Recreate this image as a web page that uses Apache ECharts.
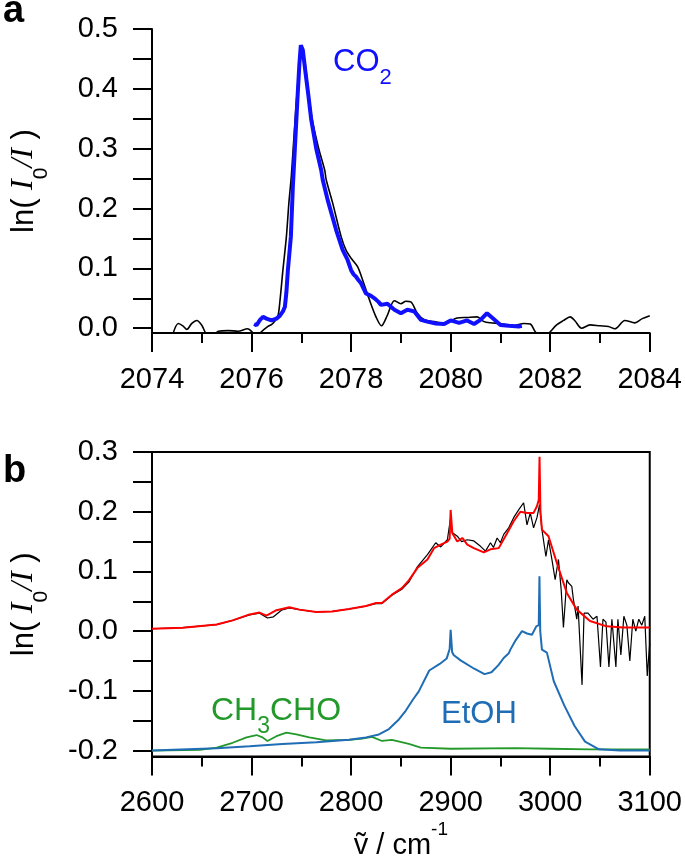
<!DOCTYPE html>
<html><head><meta charset="utf-8">
<script src="https://cdn.jsdelivr.net/npm/echarts@6/dist/echarts.min.js"></script>
<style>html,body{margin:0;padding:0;background:#fff}#c{width:685px;height:861px}</style>
</head><body><div id="c"></div>
<script>
// ---------- Panel a: CO2 band ----------
const aBlackX = [2074.40,2074.53,2074.62,2074.70,2074.80,2074.90,2075.00,2075.07,2075.15,2075.25,2075.33,2075.53,2075.73,2075.92,2076.03,2076.10,2076.17,2076.33,2076.40,2076.47,2076.53,2076.57,2076.63,2076.70,2076.75,2076.80,2076.86,2076.92,2076.97,2077.02,2077.08,2077.15,2077.22,2077.35,2077.47,2077.50,2077.63,2077.80,2077.90,2078.00,2078.13,2078.23,2078.37,2078.50,2078.61,2078.73,2078.87,2079.00,2079.10,2079.20,2079.33,2079.47,2079.67,2079.87,2080.13,2080.33,2080.53,2080.67,2080.80,2081.00,2081.27,2081.47,2081.60,2081.70,2081.80,2081.90,2082.00,2082.13,2082.27,2082.40,2082.50,2082.63,2082.80,2083.00,2083.17,2083.30,2083.50,2083.70,2083.85,2084.00];
const aBlackY = [-0.015,0.008,0.004,-0.002,0.008,0.013,0.005,-0.007,-0.015,-0.012,-0.005,-0.004,-0.005,-0.001,-0.008,-0.015,-0.008,0.003,0.006,0.012,0.020,0.045,0.097,0.153,0.209,0.255,0.330,0.400,0.445,0.465,0.440,0.390,0.348,0.300,0.264,0.248,0.209,0.153,0.130,0.117,0.103,0.081,0.047,0.019,0.004,0.022,0.046,0.041,0.045,0.044,0.025,0.014,0.011,0.008,0.017,0.018,0.019,0.011,0.009,0.008,0.004,0.008,0.007,-0.006,-0.015,-0.015,-0.006,0.0055,0.013,0.019,0.012,0.000,0.0055,0.004,0.003,-0.001,0.013,0.009,0.016,0.021];
const aBlueX = [2076.05,2076.10,2076.17,2076.23,2076.30,2076.40,2076.50,2076.57,2076.63,2076.67,2076.70,2076.73,2076.79,2076.83,2076.87,2076.92,2076.96,2076.99,2077.03,2077.08,2077.14,2077.20,2077.30,2077.40,2077.43,2077.53,2077.70,2077.83,2077.93,2078.00,2078.05,2078.10,2078.15,2078.20,2078.30,2078.40,2078.47,2078.55,2078.60,2078.73,2078.87,2079.00,2079.13,2079.27,2079.40,2079.53,2079.70,2079.87,2080.00,2080.17,2080.33,2080.47,2080.60,2080.73,2080.87,2081.00,2081.17,2081.37,2081.43];
const aBlueY = [0.007,0.005,0.014,0.019,0.016,0.013,0.016,0.021,0.028,0.036,0.060,0.097,0.153,0.237,0.300,0.380,0.440,0.473,0.465,0.430,0.390,0.348,0.300,0.264,0.248,0.214,0.164,0.131,0.114,0.097,0.090,0.086,0.080,0.075,0.058,0.054,0.050,0.044,0.039,0.041,0.031,0.025,0.031,0.028,0.014,0.011,0.008,0.007,0.013,0.009,0.013,0.007,0.014,0.025,0.015,0.0055,0.004,0.003,0.004];
const aXTicks = {min: 2074, max: 2084, step: 2};
const aYLabels = [0, 0.1, 0.2, 0.3, 0.4, 0.5];
const aYTicks = [0, 0.05, 0.1, 0.15, 0.2, 0.25, 0.3, 0.35, 0.4, 0.45, 0.5];

// ---------- Panel b: CH stretch region ----------
const bBlackX = [2600,2631,2665,2681,2698,2708,2716,2722,2730,2738,2748,2765,2781,2798,2815,2825,2831,2841,2851,2858,2866.7,2876.7,2885,2890,2896.7,2900,2901.5,2906.7,2911,2916.7,2923.3,2930,2935,2940,2943,2946.7,2950,2953.3,2958.3,2963.3,2968.3,2973.3,2976.7,2980,2983.3,2986.7,2989.3,2991.7,2995.7,2998.3,3001.7,3005,3008.3,3011,3013.3,3016.7,3018.3,3021.7,3023.3,3026.7,3028,3030,3032,3034,3038,3043,3047,3050.5,3053,3056,3059,3062,3066,3068,3071,3074,3077,3080,3083,3086,3089,3092,3095,3097.5,3100];
const bBlackY = [0.004,0.0057,0.011,0.018,0.027,0.030,0.022,0.024,0.035,0.039,0.036,0.032,0.033,0.037,0.042,0.046,0.046,0.060,0.070,0.082,0.108,0.128,0.148,0.141,0.153,0.190,0.165,0.159,0.150,0.153,0.151,0.142,0.134,0.148,0.140,0.156,0.148,0.162,0.173,0.190,0.203,0.215,0.178,0.198,0.173,0.190,0.212,0.170,0.125,0.153,0.120,0.086,0.120,0.070,0.006,0.086,0.081,0.075,0.053,0.020,0.042,0.045,-0.090,0.030,0.030,0.020,0.025,-0.060,0.020,0.015,-0.060,0.020,-0.060,0.020,-0.040,0.025,0.010,-0.050,0.020,0.000,0.020,0.010,0.025,-0.075,-0.020];
const bRedX = [2600,2631,2665,2681,2698,2708,2715,2725,2738,2748,2765,2781,2798,2815,2825,2831,2841,2851,2858,2866.7,2876.7,2883.3,2890,2896.7,2899,2900,2901.7,2906.7,2911.7,2916.7,2923.3,2933.3,2940,2948.3,2956.7,2963.3,2970,2976.7,2983.3,2986.7,2988.5,2989.3,2990.2,2991.7,2998.3,3006.7,3016.7,3026.7,3040,3056.7,3073,3100];
const bRedY = [0.004,0.0057,0.011,0.018,0.028,0.031,0.026,0.035,0.040,0.036,0.032,0.033,0.037,0.042,0.047,0.047,0.061,0.072,0.085,0.106,0.120,0.139,0.145,0.150,0.155,0.203,0.164,0.150,0.156,0.145,0.139,0.132,0.137,0.139,0.164,0.184,0.200,0.198,0.198,0.209,0.220,0.292,0.200,0.170,0.159,0.114,0.064,0.036,0.017,0.008,0.006,0.006];
const bEtohX = [2600,2665,2698,2731,2765,2798,2815,2828,2838,2848,2855,2862,2868,2878.5,2889,2896,2899,2900,2901.5,2903,2910,2923.7,2934,2941,2948,2953.3,2958.4,2960,2965.4,2971.7,2976.7,2981.7,2986,2988.5,2989.2,2990,2991.7,2996.7,3003.6,3014,3024.5,3035,3049,3070,3100];
const bEtohY = [-0.200,-0.196,-0.193,-0.189,-0.186,-0.182,-0.178,-0.173,-0.164,-0.148,-0.133,-0.115,-0.101,-0.066,-0.055,-0.046,-0.030,0.002,-0.035,-0.040,-0.049,-0.063,-0.072,-0.069,-0.057,-0.045,-0.037,-0.031,-0.015,0.000,-0.004,-0.006,0.008,0.010,0.092,0.000,-0.031,-0.036,-0.084,-0.124,-0.159,-0.185,-0.198,-0.200,-0.200];
const bAcetX = [2600,2648,2665,2681,2695,2705,2711,2716,2725,2735,2745,2758,2775,2798,2811,2821,2831,2841,2858,2870,2900,2965,2966,2967,3000,3040,3100];
const bAcetY = [-0.200,-0.199,-0.195,-0.187,-0.178,-0.174,-0.178,-0.184,-0.176,-0.170,-0.173,-0.178,-0.183,-0.182,-0.180,-0.177,-0.184,-0.182,-0.189,-0.195,-0.197,-0.196,-0.193,-0.196,-0.197,-0.198,-0.198];
const bXTicks = {min: 2600, max: 3100, step: 100};
const bYLabels = [-0.2, -0.1, 0, 0.1, 0.2, 0.3];
const bYTicks = [-0.2, -0.15, -0.1, -0.05, 0, 0.05, 0.1, 0.15, 0.2, 0.25, 0.3];

// ---------- build ----------
const zip = (xs, ys) => xs.map((x, i) => [x, ys[i]]);
const FONT = '"Liberation Sans", Arial, Helvetica, sans-serif';
const SERIF = '"Liberation Serif", "Times New Roman", serif';
const TICKFS = 29;

function xAxisDef(gi, t, extra) {
  return Object.assign({
    gridIndex: gi, type: 'value', min: t.min, max: t.max, interval: t.step,
    axisLine: {onZero: false, lineStyle: {color: '#000', width: 2}},
    axisTick: {length: 19, lineStyle: {color: '#000', width: 2}},
    minorTick: {show: true, splitNumber: 2, length: 10, lineStyle: {color: '#000', width: 2}},
    splitLine: {show: false},
    axisLabel: {color: '#000', fontFamily: FONT, fontSize: TICKFS, margin: 32, formatter: v => String(v)}
  }, extra || {});
}
const yName = '{n|ln( }{i|I}{s|0}{i|/I}{n| )}';
const yNameStyle = {
  color: '#000', fontFamily: FONT, fontSize: 31,
  rich: {
    n: {fontFamily: FONT, fontSize: 31, lineHeight: 32, color: '#000'},
    i: {fontFamily: SERIF, fontStyle: 'italic', fontSize: 32, lineHeight: 32, color: '#000'},
    s: {fontFamily: FONT, fontSize: 21, verticalAlign: 'bottom', padding: [0, 0, -12, 0], color: '#000'}
  }
};
function yAxisDef(gi, min, max, labels, ticks) {
  return {
    gridIndex: gi, type: 'value', min: min, max: max,
    name: yName, nameLocation: 'middle', nameGap: 112, nameTextStyle: yNameStyle,
    axisLine: {onZero: false, lineStyle: {color: '#000', width: 2}},
    axisTick: {length: 19, customValues: ticks, lineStyle: {color: '#000', width: 2}},
    splitLine: {show: false},
    axisLabel: {customValues: labels, color: '#000', fontFamily: FONT, fontSize: TICKFS, margin: 34,
      formatter: v => (Math.abs(v) < 1e-9 ? 0 : v).toFixed(1)}
  };
}

const chart = echarts.init(document.getElementById('c'), null, {renderer: 'canvas'});
chart.setOption({
  animation: false,
  backgroundColor: '#fff',
  grid: [
    {left: 150, top: 29, width: 500, height: 304},
    {left: 150, top: 452, width: 500, height: 306, show: true, borderColor: '#000', borderWidth: 2, backgroundColor: 'transparent'}
  ],
  xAxis: [
    xAxisDef(0, aXTicks),
    xAxisDef(1, bXTicks, {
      name: '{n|ṽ / cm}{p|-1}', nameLocation: 'middle', nameGap: 74,
      nameTextStyle: {color: '#000', fontFamily: FONT, fontSize: 29,
        rich: {n: {fontFamily: FONT, fontSize: 29, lineHeight: 30, color: '#000'},
               p: {fontFamily: FONT, fontSize: 19, verticalAlign: 'top', padding: [-10, 0, 0, 0], color: '#000'}}}
    })
  ],
  yAxis: [
    yAxisDef(0, -0.008, 0.5, aYLabels, aYTicks),
    yAxisDef(1, -0.21, 0.3, bYLabels, bYTicks)
  ],
  series: [
    {type: 'line', xAxisIndex: 0, yAxisIndex: 0, data: zip(aBlackX, aBlackY), showSymbol: false, smooth: 0.3, lineStyle: {color: '#000', width: 1.6}},
    {type: 'line', xAxisIndex: 0, yAxisIndex: 0, data: zip(aBlueX, aBlueY), showSymbol: false, lineStyle: {color: '#1010ff', width: 4}},
    {type: 'line', xAxisIndex: 1, yAxisIndex: 1, data: zip(bAcetX, bAcetY), showSymbol: false, lineStyle: {color: '#22992a', width: 1.8}},
    {type: 'line', xAxisIndex: 1, yAxisIndex: 1, data: zip(bEtohX, bEtohY), showSymbol: false, lineStyle: {color: '#1f6db5', width: 2}},
    {type: 'line', xAxisIndex: 1, yAxisIndex: 1, data: zip(bBlackX, bBlackY), showSymbol: false, lineStyle: {color: '#000', width: 1.2}},
    {type: 'line', xAxisIndex: 1, yAxisIndex: 1, data: zip(bRedX, bRedY), showSymbol: false, lineStyle: {color: '#ff0000', width: 2}}
  ],
  graphic: [
    {type: 'text', x: 3, y: 12, style: {text: 'a', font: 'bold 38px ' + FONT, fill: '#000', verticalAlign: 'middle'}},
    {type: 'text', x: 3, y: 472, style: {text: 'b', font: 'bold 38px ' + FONT, fill: '#000', verticalAlign: 'middle'}},
    {type: 'text', x: 333, y: 62, style: {text: '{n|CO}{s|2}', verticalAlign: 'middle',
      rich: {n: {fontFamily: FONT, fontSize: 31, lineHeight: 30, fill: '#1010ff'},
             s: {fontFamily: FONT, fontSize: 22, verticalAlign: 'bottom', padding: [0, 0, -12, 0], fill: '#1010ff'}}}},
    {type: 'text', x: 211, y: 711, style: {text: '{n|CH}{s|3}{n|CHO}', verticalAlign: 'middle',
      rich: {n: {fontFamily: FONT, fontSize: 32, lineHeight: 30, fill: '#22992a'},
             s: {fontFamily: FONT, fontSize: 23, verticalAlign: 'bottom', padding: [0, 0, -12, 0], fill: '#22992a'}}}},
    {type: 'text', x: 441, y: 714, style: {text: 'EtOH', font: '31px ' + FONT, fill: '#1f6db5', verticalAlign: 'middle'}}
  ]
});
</script></body></html>
